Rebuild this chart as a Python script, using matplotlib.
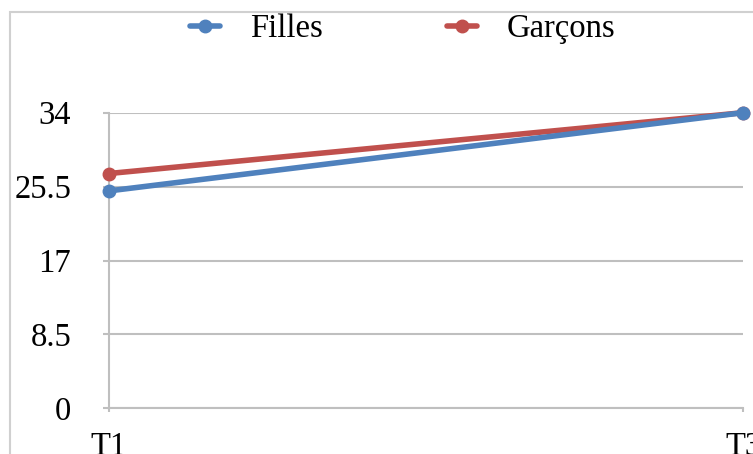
import matplotlib
matplotlib.use("Agg")
import matplotlib.pyplot as plt
from matplotlib.patches import Rectangle

# Data
periods = ["T1", "T3"]
filles = [25, 34]
garcons = [27, 34]
yticks = [0, 8.5, 17, 25.5, 34]
ytick_labels = ["0", "8.5", "17", "25.5", "34"]
series_names = ["Filles", "Garçons"]

BLUE = "#4f81bd"
RED = "#c0504d"
GRID = "#bfbfbf"

plt.rcParams["font.family"] = ["Liberation Serif", "DejaVu Serif"]

W, H = 753, 454
fig = plt.figure(figsize=(W / 100, H / 100), dpi=100)

# Light outer frame of the chart area
fig.patches.append(Rectangle((10 / W, -0.1), 1.2, 1 - 12 / H + 0.1,
                             transform=fig.transFigure, fill=False,
                             edgecolor="#d0d0d0", linewidth=1.5))

left, right = 108.5 / W, 743 / W
bottom, top = 1 - 408.3 / H, 1 - 112.7 / H
ax = fig.add_axes([left, bottom, right - left, top - bottom])

x = list(range(len(periods)))
l_g, = ax.plot(x, garcons, color=RED, lw=4.0, marker="o", ms=9,
               solid_capstyle="round", zorder=3, clip_on=False)
l_f, = ax.plot(x, filles, color=BLUE, lw=4.0, marker="o", ms=9,
               solid_capstyle="round", zorder=4, clip_on=False)

ax.set_xlim(0, 1)
ax.set_ylim(0, 34)
ax.set_xticks(x)
ax.set_xticklabels(periods)
ax.set_yticks(yticks)
ax.set_yticklabels(ytick_labels)

ax.yaxis.grid(True, color=GRID, lw=1.5)
ax.set_axisbelow(True)
for s in ["top", "right"]:
    ax.spines[s].set_visible(False)
for s in ["left", "bottom"]:
    ax.spines[s].set_color(GRID)
    ax.spines[s].set_linewidth(1.5)

ax.tick_params(axis="y", length=4, width=1.5, color=GRID, pad=23,
               labelsize=23.5)
ax.tick_params(axis="x", length=3, width=1.5, color=GRID, pad=14,
               labelsize=23.5)

fig.legend([l_f, l_g], series_names, loc="center",
           bbox_to_anchor=(0.5345, 1 - 29 / H), ncol=2, frameon=False,
           fontsize=23.5, handlelength=0.94, handletextpad=0.9,
           columnspacing=3.8, borderpad=0, borderaxespad=0)

fig.savefig("out.png", dpi=100)
